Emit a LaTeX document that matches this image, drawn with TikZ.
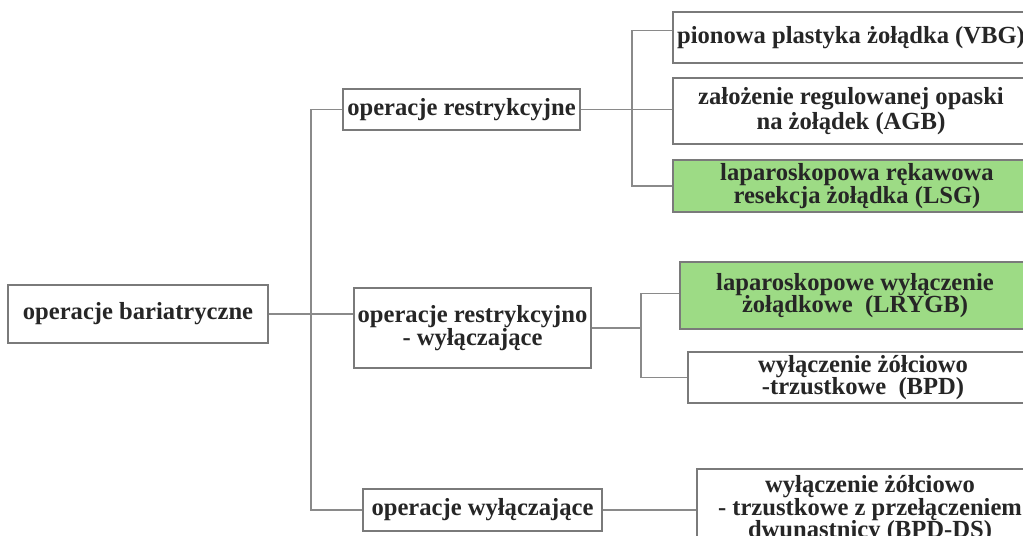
\documentclass[tikz,border=0pt]{standalone}
\usepackage{fontspec}
\setmainfont{Liberation Serif}
\usepackage{tikz}
\usetikzlibrary{positioning}
\usepackage{xcolor}
\definecolor{boxline}{HTML}{7A7A7A}
\definecolor{linkline}{HTML}{8A8A8A}
\definecolor{opgreen}{HTML}{9DDB85}
\definecolor{optext}{HTML}{262626}
\tikzset{
  opbox/.style={shape=rectangle,draw=boxline,line width=0.9pt,text=optext,align=center,
    font=\fontsize{14}{12.8}\selectfont\bfseries,inner sep=0pt},
  greenbox/.style={opbox,fill=opgreen},
  link/.style={draw=linkline,line width=0.6pt}
}
\begin{document}
\begin{tikzpicture}[x=0.02cm,y=-0.02cm]
		\useasboundingbox (0,0) rectangle (1023,535);
		\clip (0,0) rectangle (1023,535);
		\fill[white] (0,0) rectangle (1023,535);
		
		\node[opbox,minimum width=5.2cm,minimum height=1.16cm] (root) at (138,314) {operacje bariatryczne};
		
		\node[opbox,minimum width=4.74cm,minimum height=0.82cm] (r1) at (461.5,109.5) {operacje restrykcyjne};
		\node[opbox,minimum width=4.74cm,minimum height=1.6cm] (r2) at (472.5,328) {operacje restrykcyjno\\- wyłączające};
		\node[opbox,minimum width=4.78cm,minimum height=0.84cm] (r3) at (482.5,510) {operacje wyłączające};
		
		\node[opbox,minimum width=7.12cm,minimum height=1.02cm] (vbg) at (851,37.5) {pionowa plastyka żołądka (VBG)};
		\node[opbox,minimum width=7.12cm,minimum height=1.32cm] (agb) at (851,111) {założenie regulowanej opaski\\na żołądek (AGB{\Large)}};
		\node[greenbox,minimum width=7.36cm,minimum height=1.04cm] (lsg) at (857,186) {laparoskopowa rękawowa\\resekcja żołądka (LSG)};
		
		\node[greenbox,minimum width=7.0cm,minimum height=1.34cm] (lrygb) at (855,295.5) {laparoskopowe wyłączenie\\żołądkowe\ \ (LRYGB)};
		\node[opbox,minimum width=7.0cm,minimum height=1.02cm] (bpd) at (863,377.5) {wyłączenie żółciowo\\-trzustkowe\ \ (BPD)};
		
		\node[opbox,minimum width=6.92cm,minimum height=1.62cm] (bpdds) at (870,509.5) {wyłączenie żółciowo\\- trzustkowe z przełączeniem\\dwunastnicy (BPD-DS)};
		
		\coordinate (trunk) at (311,313);
		\coordinate (j1) at (632,110);
		\coordinate (j2) at (641,328);
		
		\path[link] (root.east) edge (root.east -| r2.west);
		\draw[link] (r1.west) -| (trunk) |- (r3.west);
		
		\draw[link] (r1.east) -- (r1.east -| agb.west);
		\draw[link] ([yshift=4pt]vbg.west) -| (j1) |- (lsg.west);
		
		\path[link] (r2.east) edge (j2);
		\draw[link] ([yshift=1pt]lrygb.west) -| (j2) |- (bpd.west);
		
		\path[link] (r3.east) edge (r3.east -| bpdds.west);
\end{tikzpicture}
\end{document}
